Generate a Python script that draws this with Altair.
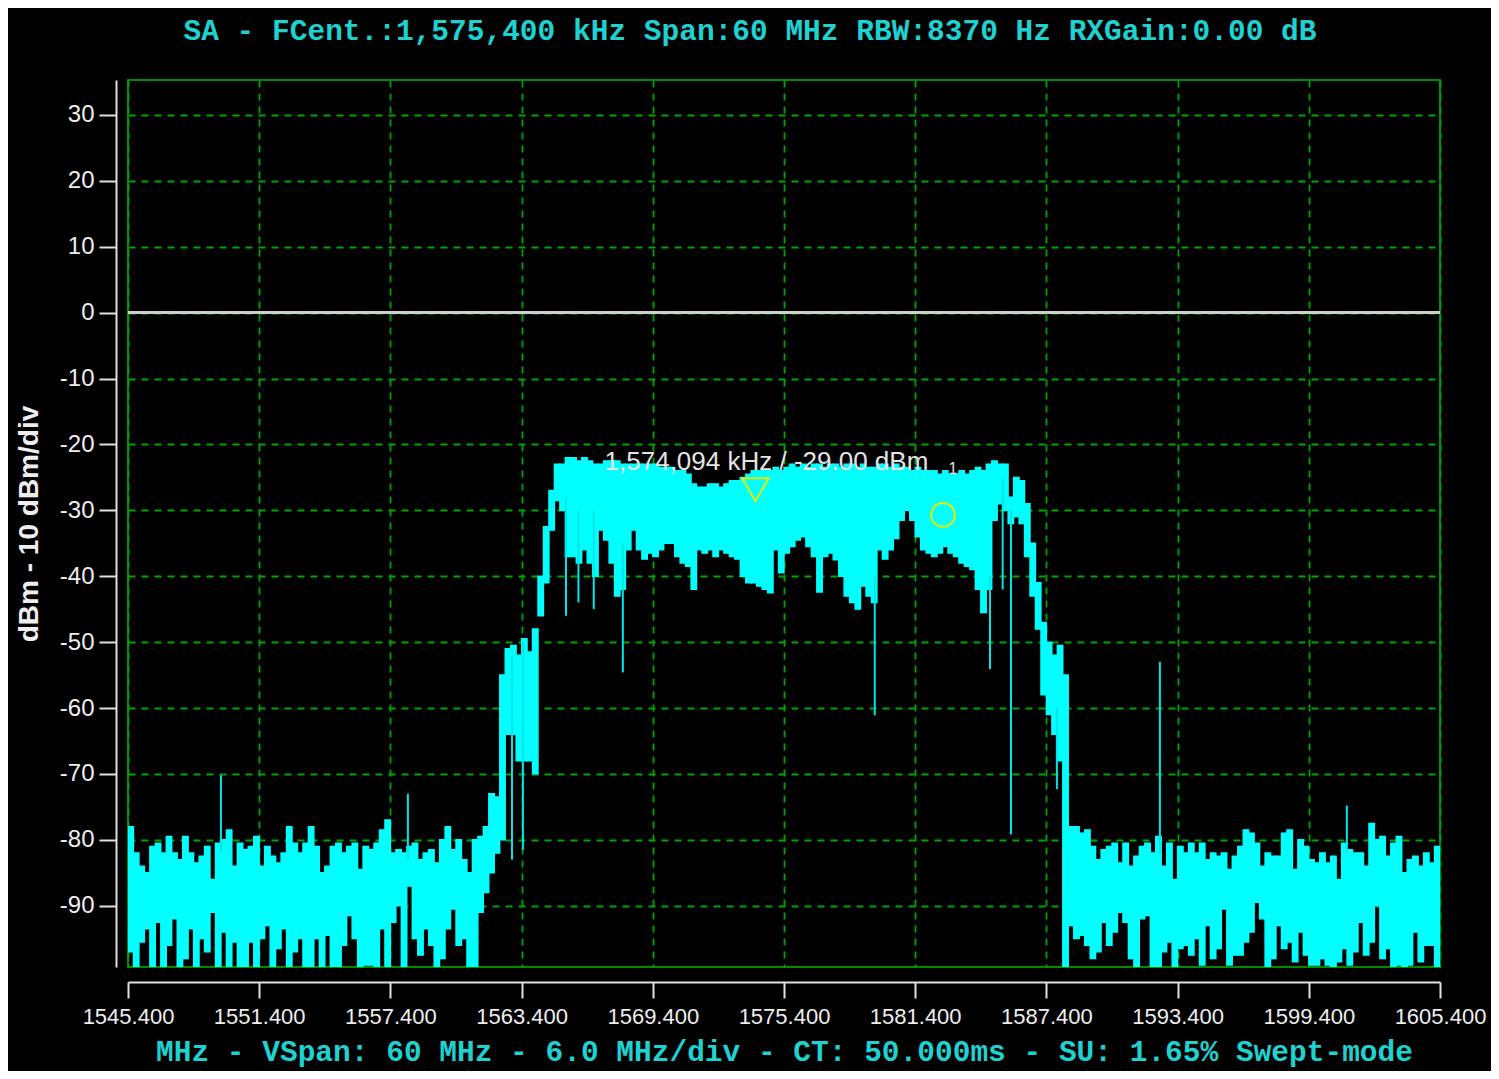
import altair as alt
import pandas as pd

# ---------------- data ----------------
F_START = 1545.4          # MHz, first trace bin
F_STEP = 0.25

# upper envelope of the trace in each bin (dBm)
hi_db = [
    -78, -82, -84, -85, -81, -80.5, -82, -79.5, -82, -83,
    -79.5, -82, -83.5, -82.5, -81, -86, -80.5, -80, -78.5, -84,
    -80.5, -81.5, -81, -79.5, -84, -81, -82.5, -83.5, -82, -78,
    -80.5, -82, -80.5, -78, -81, -85, -84, -81, -80.5, -82,
    -81, -80.5, -84.5, -81, -81.5, -80.5, -78.5, -77, -82, -81.5,
    -82, -81, -80.5, -83, -82, -81.5, -83.5, -80, -78, -81.5,
    -80, -83, -85, -80, -79.5,
    -78, -73, -73.5, -55, -51, -50.5, -52, -49.5, -51.5, -48,
    -40, -32.5, -27, -23, -23, -22, -22, -22.5, -22, -22.5,
    -23, -23, -22.5, -22.5, -22.5, -23, -23, -23, -23, -23,
    -23, -23, -23.5, -23.5, -23.5, -24, -24, -24.5, -26, -26.5,
    -26.5, -26, -26, -26.5, -26, -25.5, -25.5, -25, -24.5, -24,
    -24, -24, -24,
    -23.5, -24, -23.5, -23, -23.5, -23, -23.5, -23,
    -23, -23.5, -23, -23, -23.5, -23, -23, -23.5, -23, -23.5,
    -23.5, -23, -23, -23.5, -23, -23.5, -23.5, -24, -23.5, -24,
    -24, -24, -24.5, -24, -24.5, -24.5, -24, -24.5, -24, -23.5,
    -24, -23, -22.5, -23,
    -23, -28, -25, -25.5, -29, -35, -41, -47, -50, -52, -50.5, -55,
    -78, -78, -79, -78.5, -81, -83, -81.5, -81, -80.5, -83.5,
    -80.5, -84, -82.5, -81, -80.5, -82, -79.5, -84, -80.5, -86,
    -81, -82, -80.5, -82, -80.5, -83, -82, -82.5, -82, -84.5,
    -82.5, -81, -78.5, -79, -80.5, -84, -82, -82.5, -82.5, -79,
    -78.5, -84.5, -80, -81, -83, -83.5, -82, -83.5, -82.5, -86,
    -80.5, -81.5, -82, -82, -84, -77.5, -80, -79.5, -82.5, -80.5,
    -79.5, -85, -83, -82.5, -84, -82, -83.5, -81,
]

# lower envelope of the trace in each bin (dBm)
lo_db = [
    -97, -100, -95.5, -93.5, -100, -92.5, -100, -96, -92, -100,
    -98, -93.5, -100, -95, -97, -91, -100, -94, -100, -95.5,
    -100, -100, -95.5, -100, -95, -93, -100, -96.5, -93.5, -100,
    -97, -95, -100, -100, -95, -100, -94.5, -100, -100, -96,
    -91.5, -95, -100, -99, -99, -100, -93.5, -100, -92.5, -90,
    -100, -87, -95, -97.5, -93.5, -96, -100, -98, -93.5, -90.5,
    -96, -95, -100, -100, -91,
    -88, -85, -82, -80, -64, -64, -68, -68, -68, -70,
    -46, -41, -33, -28.5, -30, -37, -37, -38, -36, -38,
    -40, -33, -34.5, -38, -43, -42, -36, -33, -36, -37.4,
    -36.5, -37, -36, -35, -35, -37, -38, -38.5, -42, -36,
    -36.5, -36, -37, -36, -36.5, -37, -37.4, -40, -41, -41,
    -41.5, -42, -42.5,
    -36, -39.5, -36.5, -35.5, -34.5, -34, -35.5, -37,
    -42.4, -37, -36.5, -37.5, -40, -43, -44, -45, -41.5, -43,
    -44, -36, -37.4, -36, -34.3, -31.5, -30, -31.5, -34, -36,
    -36.5, -37, -36.5, -35.5, -36.5, -37, -38, -38.5, -39, -42,
    -45.5, -42, -31.5, -29,
    -30, -32, -31, -32, -37, -43, -48, -58, -61, -64, -68, -100,
    -93, -95, -94.5, -96, -98, -97, -92.5, -96, -94, -91,
    -92.5, -98, -100, -92, -91.5, -100, -100, -97, -95.5, -100,
    -96.5, -96, -97.5, -95, -99, -93, -98, -96.5, -90.5, -99,
    -97.5, -97.5, -95.5, -94, -89.5, -92, -100, -98, -93, -96.5,
    -95.5, -98.5, -94, -97.5, -99, -99, -98, -99, -100, -98.5,
    -96.5, -99, -97, -92.5, -97.5, -95.5, -90, -98, -96.5, -100,
    -99, -100, -99, -94, -98.5, -96, -96, -100,
]

# narrow spurs / deep notches of the trace
spike_f = [1549.65, 1558.2, 1562.96, 1563.46, 1565.43, 1566.0, 1566.7, 1568.03,
           1579.55, 1584.82, 1585.4, 1585.78, 1587.88, 1592.59, 1601.14]
spike_top = [-70.2, -73, -52, -50, -28, -30, -30, -35,
             -40, -40, -25, -30, -60, -53, -74.8]
spike_bot = [-82, -83, -83, -81.5, -46, -44, -45, -54.6,
             -61.1, -54.1, -42, -79.2, -72.3, -82, -82]

# markers
marker_f = [1574.094]
marker_db = [-29.0]
marker_text = ["1,574,094 kHz / -29.00 dBm"]
circle_f = [1582.67]
circle_db = [-30.7]
circle_text = ["1"]

reference_level = [0]

x_ticks = [1545.4, 1551.4, 1557.4, 1563.4, 1569.4, 1575.4,
           1581.4, 1587.4, 1593.4, 1599.4, 1605.4]
y_ticks = [30, 20, 10, 0, -10, -20, -30, -40, -50, -60, -70, -80, -90]

TITLE = "SA - FCent.:1,575,400 kHz Span:60 MHz RBW:8370 Hz RXGain:0.00 dB"
X_TITLE = "MHz - VSpan: 60 MHz - 6.0 MHz/div - CT: 50.000ms - SU: 1.65% Swept-mode"
Y_TITLE = "dBm - 10 dBm/div"

# ---------------- tables ----------------
bars = pd.DataFrame({
    "f0": [F_START + F_STEP * i for i in range(len(hi_db))],
    "hi": hi_db,
    "lo": lo_db,
})
bars["f1"] = bars["f0"] + F_STEP
spikes = pd.DataFrame({"f": spike_f, "top": spike_top, "bot": spike_bot})
marker = pd.DataFrame({"f": marker_f, "db": marker_db, "label": marker_text})
circle = pd.DataFrame({"f": circle_f, "db": circle_db, "label": circle_text})
zero = pd.DataFrame({"level": reference_level})

# ---------------- scales / axes ----------------
CYAN_TXT = "#1ED2D2"
GRID_GREEN = "#00A600"
x_scale = alt.Scale(domain=[1545.4, 1605.4], nice=False, zero=False)
y_scale = alt.Scale(domain=[-99.3, 35.3], nice=False, zero=False)

x_axis = alt.Axis(
    values=x_ticks, format=".3f", title=X_TITLE, offset=15,
    tickSize=16, tickColor="#E0E0E0", tickWidth=2,
    domainColor="#E0E0E0", domainWidth=2,
    labelFont="Liberation Sans", labelFontSize=22, labelColor="#EEEEEE",
    labelPadding=8, labelOverlap=False, labelFlush=False,
    titleFont="Liberation Mono", titleFontSize=29.5, titleFontWeight="bold",
    titleColor=CYAN_TXT, titlePadding=10,
    grid=True, gridColor=GRID_GREEN, gridDash=[7, 6], gridWidth=1.8,
)
y_axis = alt.Axis(
    values=y_ticks, title=Y_TITLE, offset=12,
    labelExpr="'' + datum.value",
    tickSize=17, tickColor="#E0E0E0", tickWidth=2,
    domainColor="#E0E0E0", domainWidth=2,
    labelFont="Liberation Sans", labelFontSize=24, labelColor="#EEEEEE",
    labelPadding=5,
    titleFont="Liberation Sans", titleFontSize=28, titleFontWeight="bold",
    titleColor="#EEEEEE", titlePadding=16,
    grid=True, gridColor=GRID_GREEN, gridDash=[7, 6], gridWidth=1.8,
)


def X(field):
    return alt.X(field, type="quantitative", scale=x_scale, axis=x_axis)


def Y(field):
    return alt.Y(field, type="quantitative", scale=y_scale, axis=y_axis)


zero_line = alt.Chart(zero).mark_rule(color="#CFCFCF", strokeWidth=3).encode(
    y=Y("level")
)

trace = alt.Chart(bars).mark_rect(
    color="#00FFFF", stroke="#00FFFF", strokeWidth=1.4, clip=True
).encode(x=X("f0"), x2="f1", y=Y("hi"), y2="lo")

spurs = alt.Chart(spikes).mark_rule(
    color="#00E6E6", strokeWidth=2, clip=True
).encode(x=X("f"), y=Y("top"), y2="bot")

tri = alt.Chart(marker).mark_point(
    shape="triangle-down", filled=False, color="#E8E800", strokeWidth=2,
    size=700, yOffset=-14, opacity=1
).encode(x=X("f"), y=Y("db"))

tri_label = alt.Chart(marker).mark_text(
    font="Liberation Sans", fontSize=26, color="#E4E4E4",
    dx=11, dy=-42, align="center", baseline="middle"
).encode(x=X("f"), y=Y("db"), text="label:N")

circ = alt.Chart(circle).mark_point(
    shape="circle", filled=False, color="#E8E800", strokeWidth=2,
    size=560, opacity=1
).encode(x=X("f"), y=Y("db"))

circ_label = alt.Chart(circle).mark_text(
    font="Liberation Sans", fontSize=16, color="#E4E4E4",
    dx=10, dy=-46, align="center", baseline="middle"
).encode(x=X("f"), y=Y("db"), text="label:N")

chart = alt.layer(
    zero_line, trace, spurs, tri, circ, tri_label, circ_label
).properties(
    width=1312,
    height=887,
    title=alt.TitleParams(
        text=TITLE, font="Liberation Mono", fontSize=29.5, fontWeight="bold",
        color=CYAN_TXT, anchor="middle", frame="group", dx=-34, offset=34,
    ),
    autosize=alt.AutoSizeParams(type="none"),
    padding={"left": 120, "top": 72, "right": 51, "bottom": 104},
    background="black",
).configure_view(
    stroke="#008A00", strokeWidth=2, fill="black"
)

chart.save("out.html", embed_options={"renderer": "svg", "actions": False})
